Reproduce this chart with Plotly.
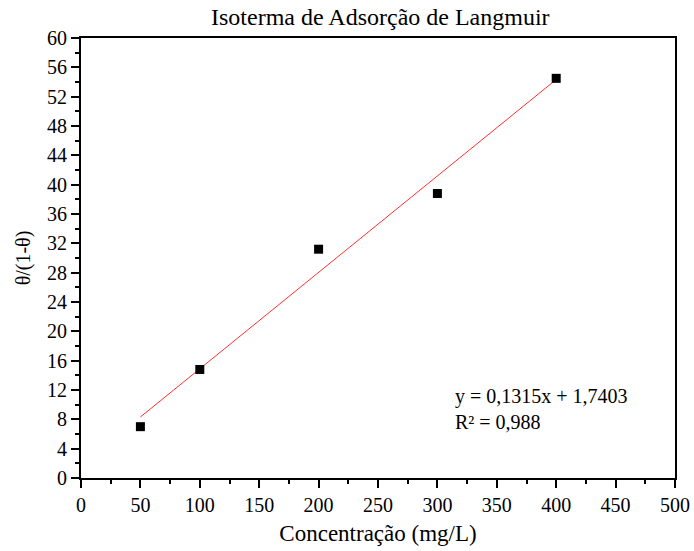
import plotly.graph_objects as go

conc = [50, 100, 200, 300, 400]
theta_ratio = [7.0, 14.8, 31.2, 38.8, 54.5]
slope = 0.1315
intercept = 1.7403
fit_x = [50, 400]
fit_y = [slope * x + intercept for x in fit_x]

font = "Liberation Serif"

fig = go.Figure()
fig.add_trace(go.Scatter(x=fit_x, y=fit_y, mode="lines",
                         line=dict(color="#ff3030", width=1), showlegend=False))
fig.add_trace(go.Scatter(x=conc, y=theta_ratio, mode="markers",
                         marker=dict(symbol="square", size=9, color="black"),
                         showlegend=False))

fig.add_annotation(x=0.627, y=0.157, xref="paper", yref="paper",
                   text="y = 0,1315x + 1,7403<br>R² = 0,988", showarrow=False,
                   xanchor="left", yanchor="middle", align="left",
                   font=dict(family=font, size=20, color="black"))

axis_common = dict(showline=True, linecolor="black", linewidth=2, mirror=True,
                   ticks="outside", ticklen=8, tickwidth=2, tickcolor="black",
                   showgrid=False, zeroline=False, automargin=False,
                   tickfont=dict(family=font, size=20, color="black"))

fig.update_xaxes(range=[0, 500], dtick=50,
                 minor=dict(ticks="outside", ticklen=4, tickwidth=2, dtick=25, tickcolor="black"),
                 title=dict(text="Concentração (mg/L)", font=dict(family=font, size=23, color="black"), standoff=10),
                 **axis_common)
fig.update_yaxes(range=[0, 60], dtick=4,
                 minor=dict(ticks="outside", ticklen=4, tickwidth=2, dtick=2, tickcolor="black"),
                 title=dict(text="θ/(1-θ)", font=dict(family=font, size=20, color="black"), standoff=11),
                 **axis_common)

fig.update_layout(
    width=694, height=551,
    margin=dict(l=81, r=19, t=38, b=73),
    font=dict(family=font, color="black"),
    paper_bgcolor="white", plot_bgcolor="white",
    title=dict(text="Isoterma de Adsorção de Langmuir", x=0.548, xanchor="center",
               y=0.969, yanchor="middle", font=dict(family=font, size=24, color="black")),
)

fig.write_html("out.html", config={"displayModeBar": False},
               post_script="document.body.style.margin='0';document.body.style.overflow='hidden';")
